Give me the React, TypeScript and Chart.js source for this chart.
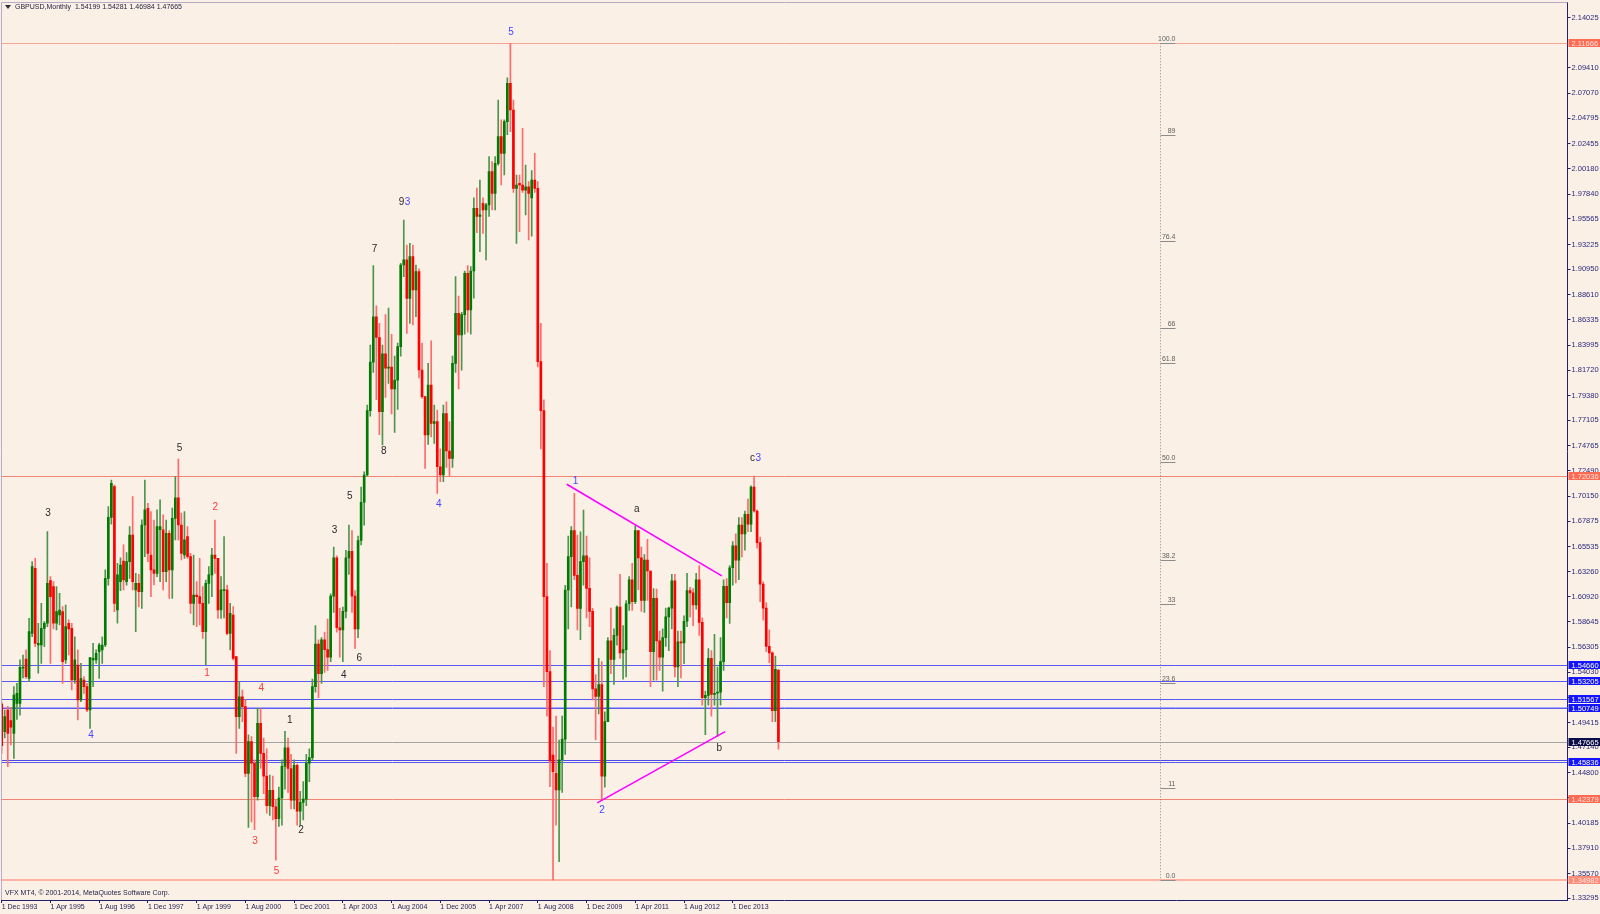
import React, { useEffect, useRef } from "react";
import { Chart, registerables } from "chart.js";

Chart.register(...registerables);

// ---------- meta ----------
const SYMBOL = "GBPUSD";
const PERIOD = "Monthly";
const FOOTER = "VFX MT4, \u00a9 2001-2014, MetaQuotes Software Corp.";

// ---------- x axis (bar index 0 = Dec 1993, one bar per month) ----------
const X_TICK_LABELS = [
  "1 Dec 1993", "1 Apr 1995", "1 Aug 1996", "1 Dec 1997", "1 Apr 1999", "1 Aug 2000",
  "1 Dec 2001", "1 Apr 2003", "1 Aug 2004", "1 Dec 2005", "1 Apr 2007", "1 Aug 2008",
  "1 Dec 2009", "1 Apr 2011", "1 Aug 2012", "1 Dec 2013",
];
const X_TICK_STEP = 16;
const X_MIN = -0.23;
const X_MAX = 514.05;

// ---------- y axis ----------
const Y_MIN = 1.3315;
const Y_MAX = 2.1545;
const Y_TICKS = [
  2.14025, 2.0941, 2.0707, 2.04795, 2.02455, 2.0018, 1.9784, 1.95565, 1.93225, 1.9095,
  1.8861, 1.86335, 1.83995, 1.8172, 1.7938, 1.77105, 1.74765, 1.7249, 1.7015, 1.67875,
  1.65535, 1.6326, 1.6092, 1.58645, 1.56305, 1.5403, 1.5169, 1.49415, 1.4714, 1.448,
  1.42525, 1.40185, 1.3791, 1.3557, 1.33295,
];

// ---------- OHLC (Dec 1993 ... Mar 2015) ----------
const OPEN = [
  1.5110,
  1.4858, 1.5056, 1.4960, 1.4842, 1.5117, 1.5117, 1.5440, 1.5523, 1.5346, 1.5759, 1.6355, 1.5652,
  1.5652, 1.5805, 1.5851, 1.6242, 1.6187, 1.5851, 1.5927, 1.5958, 1.5515, 1.5851, 1.5805, 1.5331,
  1.5469, 1.5148, 1.5331, 1.5270, 1.5056, 1.5515, 1.5515, 1.5591, 1.5607, 1.5652, 1.6263, 1.6822,
  1.7103, 1.5973, 1.6233, 1.6420, 1.6233, 1.6416, 1.6660, 1.6157, 1.6218, 1.6140, 1.6752, 1.6905,
  1.6477, 1.6340, 1.6309, 1.6710, 1.6707, 1.6324, 1.6676, 1.6340, 1.6813, 1.7000, 1.6752, 1.6477,
  1.6645, 1.6462, 1.6034, 1.6110, 1.6095, 1.6034, 1.5774, 1.6217, 1.6294, 1.6477, 1.6446, 1.5973,
  1.6151, 1.6157, 1.5759, 1.5927, 1.5545, 1.4995, 1.5178, 1.5087, 1.4476, 1.4767, 1.4568, 1.4262,
  1.4934, 1.4659, 1.4450, 1.4180, 1.4320, 1.4170, 1.4060, 1.4250, 1.4540, 1.4710, 1.4520, 1.4230,
  1.4550, 1.4130, 1.4210, 1.4240, 1.4570, 1.4620, 1.5270, 1.5660, 1.5390, 1.5700, 1.5610, 1.5540,
  1.6100, 1.6450, 1.5810, 1.5790, 1.5960, 1.6450, 1.6510, 1.6100, 1.5800, 1.6610, 1.6960, 1.7210,
  1.7800, 1.8245, 1.8660, 1.8470, 1.7790, 1.8320, 1.8190, 1.8200, 1.8000, 1.8080, 1.8386, 1.9135,
  1.9181, 1.8829, 1.9211, 1.8906, 1.9074, 1.8172, 1.7928, 1.7577, 1.8035, 1.7683, 1.7700, 1.7286,
  1.7210, 1.7774, 1.7430, 1.7363, 1.8233, 1.8692, 1.8493, 1.8680, 1.9058, 1.8722, 1.9080, 1.9654,
  1.9580, 1.9700, 1.9639, 1.9685, 1.9990, 1.9791, 2.0066, 2.0311, 2.0158, 2.0448, 2.0800, 2.0555,
  1.9837, 1.9883, 1.9868, 1.9820, 1.9850, 1.9750, 1.9914, 1.9837, 1.8249, 1.7800, 1.6095, 1.5408,
  1.4644, 1.4476, 1.4323, 1.4600, 1.4790, 1.6156, 1.6462, 1.6700, 1.6290, 1.5988, 1.6416, 1.6470,
  1.6171, 1.5960, 1.5250, 1.5180, 1.5290, 1.4450, 1.4950, 1.5690, 1.5520, 1.5740, 1.6000, 1.5580,
  1.5610, 1.6030, 1.6250, 1.6050, 1.6700, 1.6450, 1.6060, 1.6430, 1.6330, 1.5590, 1.6080, 1.5690,
  1.5540, 1.5720, 1.5910, 1.5990, 1.6240, 1.5450, 1.5680, 1.5670, 1.5870, 1.6150, 1.6130, 1.6020,
  1.6250, 1.5860, 1.5170, 1.5190, 1.5530, 1.5200, 1.5210, 1.5220, 1.5500, 1.6190, 1.6040, 1.6360,
  1.6560, 1.6430, 1.6750, 1.6670, 1.6850, 1.6760, 1.7100, 1.6880, 1.6590, 1.6210, 1.5990, 1.5640,
  1.5580, 1.5050, 1.54199,
];
const HIGH = [
  1.5130,
  1.5056, 1.5090, 1.5080, 1.5270, 1.5300, 1.5515, 1.5560, 1.5607, 1.5896, 1.6416, 1.6446, 1.5851,
  1.6034, 1.5866, 1.6691, 1.6278, 1.6234, 1.6187, 1.6126, 1.6004, 1.6019, 1.5882, 1.5850, 1.5728,
  1.5607, 1.5484, 1.5362, 1.5301, 1.5536, 1.5667, 1.5607, 1.5667, 1.5728, 1.6340, 1.6920, 1.7164,
  1.7118, 1.6400, 1.6450, 1.6569, 1.6500, 1.6737, 1.7012, 1.6309, 1.6300, 1.6800, 1.7164, 1.6950,
  1.6875, 1.6798, 1.6890, 1.6982, 1.6844, 1.6798, 1.6700, 1.6906, 1.7195, 1.7357, 1.6860, 1.6875,
  1.6737, 1.6492, 1.6477, 1.6233, 1.6447, 1.6187, 1.6248, 1.6370, 1.6538, 1.6798, 1.6446, 1.6278,
  1.6645, 1.6202, 1.6034, 1.6004, 1.5545, 1.5316, 1.5240, 1.5150, 1.4828, 1.4813, 1.4600, 1.5071,
  1.5070, 1.4800, 1.4700, 1.4460, 1.4450, 1.4230, 1.4350, 1.4600, 1.4860, 1.4800, 1.4650, 1.4600,
  1.4560, 1.4310, 1.4400, 1.4650, 1.4700, 1.5340, 1.5830, 1.5700, 1.5720, 1.5770, 1.5890, 1.6120,
  1.6550, 1.6470, 1.5990, 1.6000, 1.6520, 1.6750, 1.6700, 1.6150, 1.6650, 1.7100, 1.7240, 1.7850,
  1.8400, 1.9130, 1.8760, 1.8600, 1.8400, 1.8680, 1.8740, 1.8500, 1.8300, 1.8420, 1.9150, 1.9547,
  1.9318, 1.9333, 1.9318, 1.9135, 1.9100, 1.8420, 1.7930, 1.8233, 1.8440, 1.7850, 1.7806, 1.7450,
  1.7850, 1.7880, 1.7700, 1.8300, 1.9028, 1.8850, 1.8700, 1.9080, 1.9130, 1.9120, 1.9750, 1.9840,
  1.9914, 1.9750, 1.9700, 2.0128, 2.0082, 2.0128, 2.0647, 2.0464, 2.0464, 2.0850, 2.11666, 2.0647,
  1.9959, 1.9959, 2.0387, 2.0050, 1.9900, 2.0000, 2.0158, 1.9900, 1.8600, 1.7900, 1.6400, 1.5600,
  1.4900, 1.5000, 1.4781, 1.5000, 1.6200, 1.6650, 1.6737, 1.7042, 1.6660, 1.6690, 1.6889, 1.6650,
  1.6450, 1.5988, 1.5380, 1.5530, 1.5500, 1.5040, 1.5720, 1.5990, 1.5800, 1.6010, 1.6300, 1.5830,
  1.6060, 1.6280, 1.6400, 1.6745, 1.6700, 1.6550, 1.6480, 1.6620, 1.6330, 1.6170, 1.6165, 1.5780,
  1.5800, 1.5990, 1.6000, 1.6300, 1.6300, 1.5780, 1.5780, 1.5920, 1.6310, 1.6180, 1.6170, 1.6310,
  1.6380, 1.5900, 1.5230, 1.5620, 1.5600, 1.5750, 1.5450, 1.5720, 1.6250, 1.6260, 1.6380, 1.6600,
  1.6670, 1.6820, 1.6820, 1.6880, 1.6990, 1.7110, 1.7200, 1.6890, 1.6640, 1.6230, 1.6040, 1.5790,
  1.5590, 1.5550, 1.54281,
];
const LOW = [
  1.4660,
  1.4800, 1.4537, 1.4736, 1.4613, 1.4970, 1.5010, 1.5350, 1.5346, 1.5316, 1.5728, 1.5637, 1.5393,
  1.5484, 1.5637, 1.5820, 1.5484, 1.5800, 1.5790, 1.5836, 1.5301, 1.5484, 1.5560, 1.5240, 1.5301,
  1.4965, 1.5133, 1.5209, 1.5041, 1.4888, 1.5270, 1.5484, 1.5346, 1.5484, 1.5637, 1.6200, 1.6760,
  1.5958, 1.5851, 1.6150, 1.6157, 1.6200, 1.6263, 1.6157, 1.5774, 1.6000, 1.5988, 1.6462, 1.6416,
  1.6095, 1.6202, 1.6278, 1.6233, 1.6157, 1.6233, 1.6080, 1.6080, 1.6615, 1.6615, 1.6431, 1.6446,
  1.6446, 1.5942, 1.5835, 1.5820, 1.5835, 1.5713, 1.5469, 1.6034, 1.6095, 1.6309, 1.5896, 1.5896,
  1.5900, 1.5744, 1.5606, 1.5515, 1.4659, 1.4888, 1.4950, 1.4445, 1.3980, 1.4030, 1.3960, 1.4231,
  1.4520, 1.4290, 1.4110, 1.4090, 1.4050, 1.3680, 1.3990, 1.4000, 1.4330, 1.4300, 1.4150, 1.4150,
  1.4000, 1.4000, 1.4050, 1.4180, 1.4400, 1.4600, 1.5220, 1.5170, 1.5300, 1.5400, 1.5420, 1.5500,
  1.5950, 1.5770, 1.5540, 1.5500, 1.5900, 1.6300, 1.5950, 1.5620, 1.5720, 1.6570, 1.6750, 1.7200,
  1.7750, 1.8150, 1.7900, 1.7580, 1.7485, 1.7920, 1.8050, 1.7770, 1.7600, 1.7810, 1.8300, 1.9028,
  1.8508, 1.8600, 1.8585, 1.8661, 1.8100, 1.7913, 1.7271, 1.7490, 1.7560, 1.7500, 1.7042, 1.7150,
  1.7150, 1.7280, 1.7200, 1.7280, 1.8150, 1.8000, 1.8170, 1.8500, 1.8520, 1.8500, 1.8830, 1.9430,
  1.9257, 1.9425, 1.9181, 1.9580, 1.9640, 1.9639, 2.0050, 1.9868, 1.9960, 2.0330, 2.0357, 1.9800,
  1.9333, 1.9440, 1.9800, 1.9593, 1.9364, 1.9400, 1.9800, 1.8200, 1.7450, 1.5270, 1.5000, 1.4353,
  1.34982, 1.4000, 1.3666, 1.4300, 1.4650, 1.5800, 1.6000, 1.6250, 1.5790, 1.5700, 1.6200, 1.5900,
  1.5820, 1.5148, 1.4781, 1.5020, 1.4229, 1.4350, 1.4950, 1.5390, 1.5290, 1.5650, 1.5530, 1.5340,
  1.5360, 1.5970, 1.5970, 1.6030, 1.6160, 1.5960, 1.5950, 1.6060, 1.5270, 1.5330, 1.5330, 1.5420,
  1.5230, 1.5640, 1.5600, 1.5800, 1.5360, 1.5270, 1.5350, 1.5480, 1.5820, 1.5910, 1.5830, 1.5980,
  1.5740, 1.5100, 1.4830, 1.5100, 1.5000, 1.5100, 1.4814, 1.5100, 1.5420, 1.5900, 1.5850, 1.6200,
  1.6220, 1.6250, 1.6460, 1.6520, 1.6690, 1.6690, 1.6870, 1.6540, 1.6050, 1.5880, 1.5590, 1.5490,
  1.4950, 1.4950, 1.46984,
];
const CLOSE = [
  1.4730,
  1.4995, 1.4842, 1.4900, 1.5194, 1.5209, 1.5447, 1.5447, 1.5362, 1.5774, 1.6370, 1.5667, 1.5667,
  1.5805, 1.5851, 1.6217, 1.6095, 1.5851, 1.5958, 1.5973, 1.5499, 1.5820, 1.5800, 1.5331, 1.5515,
  1.5148, 1.5346, 1.5270, 1.5056, 1.5536, 1.5530, 1.5576, 1.5652, 1.5652, 1.6263, 1.6822, 1.7134,
  1.6034, 1.6294, 1.6385, 1.6248, 1.6416, 1.6660, 1.6233, 1.6218, 1.6140, 1.6752, 1.6890, 1.6492,
  1.6340, 1.6309, 1.6737, 1.6737, 1.6324, 1.6676, 1.6340, 1.6813, 1.7000, 1.6752, 1.6492, 1.6615,
  1.6462, 1.6034, 1.6110, 1.6095, 1.6034, 1.5774, 1.6217, 1.6294, 1.6477, 1.6446, 1.5973, 1.6157,
  1.6157, 1.5759, 1.5942, 1.5530, 1.4995, 1.5178, 1.5087, 1.4476, 1.4767, 1.4568, 1.4262, 1.4934,
  1.4659, 1.4450, 1.4180, 1.4320, 1.4170, 1.4060, 1.4250, 1.4540, 1.4710, 1.4520, 1.4230, 1.4550,
  1.4130, 1.4210, 1.4240, 1.4570, 1.4620, 1.5270, 1.5660, 1.5390, 1.5700, 1.5610, 1.5540, 1.6100,
  1.6450, 1.5810, 1.5790, 1.5960, 1.6450, 1.6510, 1.6100, 1.5800, 1.6610, 1.6960, 1.7210, 1.7800,
  1.8245, 1.8660, 1.8470, 1.7790, 1.8320, 1.8190, 1.8200, 1.8000, 1.8080, 1.8386, 1.9135, 1.9181,
  1.8829, 1.9211, 1.8906, 1.9074, 1.8172, 1.7928, 1.7577, 1.8035, 1.7683, 1.7700, 1.7286, 1.7210,
  1.7774, 1.7430, 1.7363, 1.8233, 1.8692, 1.8493, 1.8680, 1.9058, 1.8722, 1.9080, 1.9654, 1.9580,
  1.9595, 1.9640, 1.9685, 1.9990, 1.9791, 2.0066, 2.0311, 2.0158, 2.0448, 2.0800, 2.0555, 1.9837,
  1.9868, 1.9868, 1.9820, 1.9850, 1.9791, 1.9914, 1.9837, 1.8249, 1.7800, 1.6095, 1.5408, 1.4590,
  1.4491, 1.4323, 1.4600, 1.4790, 1.6156, 1.6462, 1.6700, 1.6290, 1.5988, 1.6416, 1.6470, 1.6171,
  1.5960, 1.5250, 1.5180, 1.5290, 1.4450, 1.4950, 1.5690, 1.5520, 1.5740, 1.6000, 1.5580, 1.5610,
  1.6030, 1.6250, 1.6050, 1.6700, 1.6450, 1.6060, 1.6430, 1.6330, 1.5590, 1.6080, 1.5690, 1.5540,
  1.5720, 1.5910, 1.5990, 1.6240, 1.5450, 1.5680, 1.5670, 1.5870, 1.6150, 1.6130, 1.6020, 1.6250,
  1.5860, 1.5170, 1.5190, 1.5530, 1.5200, 1.5210, 1.5220, 1.5500, 1.6190, 1.6040, 1.6360, 1.6560,
  1.6430, 1.6750, 1.6670, 1.6850, 1.6760, 1.7100, 1.6880, 1.6590, 1.6210, 1.5990, 1.5640, 1.5580,
  1.5050, 1.5430, 1.47665,
];

// ---------- horizontal levels ----------
const SALMON_LEVELS = [1.72036, 1.42379];
const BLUE_LEVELS = [1.5466, 1.53205, 1.51567, 1.50749, 1.45836];
const BLUE_EXTRA_LINES = [1.5085, 1.4599];

// ---------- fibonacci ----------
const FIB_LEVELS = [0, 11, 23.6, 33, 38.2, 50, 61.8, 66, 76.4, 89, 100];
const FIB_TEXT = ["0.0", "11", "23.6", "33", "38.2", "50.0", "61.8", "66", "76.4", "89", "100.0"];
const FIB_BAR = 380.3;

// ---------- trend lines (bar index, price) ----------
const TREND_FROM_BAR = [185.5, 195.5];
const TREND_FROM_PRICE = [1.7125, 1.4205];
const TREND_TO_BAR = [236.4, 237.5];
const TREND_TO_PRICE = [1.6285, 1.4858];

// ---------- wave labels ----------
const WAVE_TEXT = ["5", "9", "3", "7", "8", "4", "5", "3", "2", "1", "4", "4", "3", "5", "2", "1", "3", "5", "6", "4", "1", "a", "c", "3", "2", "b"];
const WAVE_BAR = [167.2, 131.3, 133.2, 122.4, 125.4, 143.5, 58.4, 15.2, 70.1, 67.4, 85.2, 29.3, 83.2, 90.2, 98.3, 94.6, 109.3, 114.3, 117.4, 112.3, 188.4, 208.5, 246.5, 248.4, 197.1, 235.6];
const WAVE_PRICE = [2.1264, 1.9709, 1.9709, 1.9281, 1.743, 1.6944, 1.7458, 1.6862, 1.6917, 1.5391, 1.526, 1.4821, 1.3849, 1.3577, 1.3951, 1.4961, 1.67, 1.7018, 1.5531, 1.5372, 1.715, 1.6897, 1.7363, 1.7363, 1.414, 1.4708];
const WAVE_COLOR = ["b", "k", "b", "k", "k", "b", "k", "k", "r", "r", "r", "b", "r", "r", "k", "k", "k", "k", "k", "k", "b", "k", "k", "b", "b", "k"];

// ---------- styles ----------
const BG = "#FAF0E6";
const BULL = "#007a00";
const BEAR = "#ff0000";
const BULL_WICK = "#4d954d";
const BEAR_WICK = "#ff6a6a";
const AXIS = "#22226a";
const FONT = "'Liberation Sans', Arial, sans-serif";
const COLORS: Record<string, string> = { b: "#4646ff", k: "#2a2a2a", r: "#ff3a3a" };

const overlay = {
  id: "overlay",
  beforeDraw(chart: any) {
    const { ctx, width, height } = chart;
    ctx.save();
    ctx.fillStyle = BG;
    ctx.fillRect(0, 0, width, height);
    ctx.restore();
  },
  beforeDatasetsDraw(chart: any) {
    const { ctx, chartArea: a, scales } = chart;
    const xs = scales.x, ys = scales.y;
    const hi = Math.max(...HIGH), lo = Math.min(...LOW);
    ctx.save();
    ctx.beginPath();
    ctx.rect(a.left, a.top, a.right - a.left, a.bottom - a.top);
    ctx.clip();
    const hline = (p: number, color: string, w: number) => {
      const y = Math.round(ys.getPixelForValue(p)) + (w % 2 ? 0.5 : 0);
      ctx.strokeStyle = color;
      ctx.lineWidth = w;
      ctx.beginPath();
      ctx.moveTo(a.left, y);
      ctx.lineTo(a.right, y);
      ctx.stroke();
    };
    hline(hi, "#f6a494", 1);
    hline(lo, "#ffb2a4", 2);
    SALMON_LEVELS.forEach((p) => hline(p, "#f08472", 1));
    BLUE_EXTRA_LINES.forEach((p, k) => hline(p, k === 0 ? "#a8a8ff" : "#4a4ae8", 1));
    BLUE_LEVELS.forEach((p) => hline(p, "#5a5af0", 1));
    hline(CLOSE[CLOSE.length - 1], "#a4a4a4", 1);

    // fibonacci
    const fx = Math.round(xs.getPixelForValue(FIB_BAR)) + 0.5;
    ctx.strokeStyle = "#8a8a8a";
    ctx.lineWidth = 1;
    ctx.setLineDash([1, 2]);
    ctx.beginPath();
    ctx.moveTo(fx, ys.getPixelForValue(hi));
    ctx.lineTo(fx, ys.getPixelForValue(lo));
    ctx.stroke();
    ctx.setLineDash([]);
    ctx.font = `7px ${FONT}`;
    ctx.textAlign = "right";
    ctx.textBaseline = "bottom";
    FIB_LEVELS.forEach((lv, k) => {
      const y = Math.round(ys.getPixelForValue(lo + (hi - lo) * lv / 100)) + 0.5;
      ctx.strokeStyle = "#8c8c8c";
      ctx.beginPath();
      ctx.moveTo(fx, y);
      ctx.lineTo(fx + 15, y);
      ctx.stroke();
      ctx.fillStyle = "#606060";
      ctx.fillText(FIB_TEXT[k], fx + 15, y - 1);
    });
    ctx.restore();
  },
  afterDatasetsDraw(chart: any) {
    const { ctx, chartArea: a, scales } = chart;
    const xs = scales.x, ys = scales.y;
    ctx.save();
    ctx.beginPath();
    ctx.rect(a.left, a.top, a.right - a.left, a.bottom - a.top);
    ctx.clip();
    ctx.strokeStyle = "#ff00ff";
    ctx.lineWidth = 1.6;
    TREND_FROM_BAR.forEach((b, k) => {
      ctx.beginPath();
      ctx.moveTo(xs.getPixelForValue(b), ys.getPixelForValue(TREND_FROM_PRICE[k]));
      ctx.lineTo(xs.getPixelForValue(TREND_TO_BAR[k]), ys.getPixelForValue(TREND_TO_PRICE[k]));
      ctx.stroke();
    });
    ctx.font = `10px ${FONT}`;
    ctx.textAlign = "center";
    ctx.textBaseline = "middle";
    WAVE_TEXT.forEach((t, k) => {
      ctx.fillStyle = COLORS[WAVE_COLOR[k]];
      ctx.fillText(t, xs.getPixelForValue(WAVE_BAR[k]), ys.getPixelForValue(WAVE_PRICE[k]));
    });
    ctx.restore();
  },
  afterDraw(chart: any) {
    const { ctx, chartArea: a, scales, width } = chart;
    const ys = scales.y;
    const hi = Math.max(...HIGH), lo = Math.min(...LOW);
    ctx.save();
    // left & top frame
    ctx.strokeStyle = "#b4acc8";
    ctx.lineWidth = 1;
    ctx.beginPath();
    ctx.moveTo(a.left + 0.5, a.bottom);
    ctx.lineTo(a.left + 0.5, a.top + 0.5);
    ctx.lineTo(a.right, a.top + 0.5);
    ctx.stroke();

    // price boxes on the axis
    ctx.font = `7.5px ${FONT}`;
    ctx.textAlign = "left";
    ctx.textBaseline = "middle";
    const box = (p: number, bg: string, fg: string) => {
      const y = Math.round(ys.getPixelForValue(p));
      ctx.fillStyle = bg;
      ctx.fillRect(a.right + 1, y - 4, width - a.right - 1, 8);
      ctx.fillStyle = fg;
      ctx.fillText(p.toFixed(5), a.right + 4, y + 0.5);
    };
    box(hi, "#ff6a52", "#ffe8e0");
    SALMON_LEVELS.forEach((p) => box(p, "#ff6a52", "#ffe8e0"));
    box(lo, "#ff8a78", "#ffe8e0");
    BLUE_LEVELS.forEach((p) => box(p, "#1414ff", "#ffffff"));
    box(CLOSE[CLOSE.length - 1], "#0c0c48", "#ffffff");

    // title
    const n = OPEN.length - 1;
    ctx.fillStyle = "#2c2c3c";
    ctx.beginPath();
    ctx.moveTo(5, 5);
    ctx.lineTo(11, 5);
    ctx.lineTo(8, 9);
    ctx.closePath();
    ctx.fill();
    ctx.fillStyle = "#1e1e3e";
    ctx.font = `7px ${FONT}`;
    ctx.textBaseline = "middle";
    ctx.fillText(
      `${SYMBOL},${PERIOD}  ${OPEN[n].toFixed(5)} ${HIGH[n].toFixed(5)} ${LOW[n].toFixed(5)} ${CLOSE[n].toFixed(5)}`,
      15, 7.5
    );
    // footer
    ctx.fillStyle = "#24244a";
    ctx.fillText(FOOTER, 5, a.bottom - 6.5);
    ctx.restore();
  },
};

export default function App() {
  const ref = useRef<HTMLCanvasElement | null>(null);
  useEffect(() => {
    document.body.style.margin = "0";
    document.body.style.background = BG;
    Chart.defaults.font.family = FONT;
    const bodies = OPEN.map((o, i) => ({ x: i, y: [o, CLOSE[i]] }));
    const wicks = OPEN.map((_, i) => ({ x: i, y: [LOW[i], HIGH[i]] }));
    const up = OPEN.map((o, i) => CLOSE[i] >= o);
    const chart = new Chart(ref.current as HTMLCanvasElement, {
      type: "bar",
      data: {
        datasets: [
          {
            data: bodies as any,
            backgroundColor: up.map((u) => (u ? BULL : BEAR)),
            barThickness: 2,
            minBarLength: 1,
            grouped: false,
            borderWidth: 0,
            order: 0,
          } as any,
          {
            data: wicks as any,
            backgroundColor: up.map((u) => (u ? BULL_WICK : BEAR_WICK)),
            barThickness: 1,
            grouped: false,
            borderWidth: 0,
            order: 1,
          } as any,
        ],
      },
      options: {
        responsive: false,
        animation: false,
        events: [],
        layout: { padding: { left: 1, top: 2, right: 0, bottom: 0 } },
        plugins: { legend: { display: false }, tooltip: { enabled: false }, title: { display: false } },
        scales: {
          x: {
            type: "linear",
            min: X_MIN,
            max: X_MAX,
            offset: false,
            afterBuildTicks: (s: any) => {
              s.ticks = X_TICK_LABELS.map((_, k) => ({ value: k * X_TICK_STEP }));
            },
            afterFit: (s: any) => {
              s.height = 14;
              s.paddingLeft = 0;
              s.paddingRight = 0;
            },
            ticks: {
              autoSkip: false,
              maxRotation: 0,
              minRotation: 0,
              align: "start",
              padding: 0,
              color: "#1e1e50",
              font: { size: 7, family: FONT },
              callback: (_v: any, idx: number) => X_TICK_LABELS[idx],
            },
            grid: { display: true, drawOnChartArea: false, drawTicks: true, tickLength: 3, color: AXIS, offset: false },
            border: { display: true, color: AXIS, width: 1 },
          },
          y: {
            type: "linear",
            position: "right",
            min: Y_MIN,
            max: Y_MAX,
            afterBuildTicks: (s: any) => {
              s.ticks = Y_TICKS.map((v) => ({ value: v }));
            },
            afterFit: (s: any) => {
              s.width = 32.5;
              s.paddingTop = 0;
              s.paddingBottom = 0;
            },
            ticks: {
              autoSkip: false,
              padding: 1,
              color: "#2a2a7a",
              font: { size: 7.5, family: FONT },
              callback: (v: any) => Number(v).toFixed(5),
            },
            grid: { display: true, drawOnChartArea: false, drawTicks: true, tickLength: 3, color: AXIS },
            border: { display: true, color: AXIS, width: 1 },
          },
        },
      } as any,
      plugins: [overlay],
    });
    return () => chart.destroy();
  }, []);
  return (
    <div style={{ position: "absolute", left: 0, top: 0, width: 1600, height: 914, background: BG }}>
      <canvas ref={ref} width={1600} height={914} style={{ display: "block", width: 1600, height: 914 }} />
    </div>
  );
}
